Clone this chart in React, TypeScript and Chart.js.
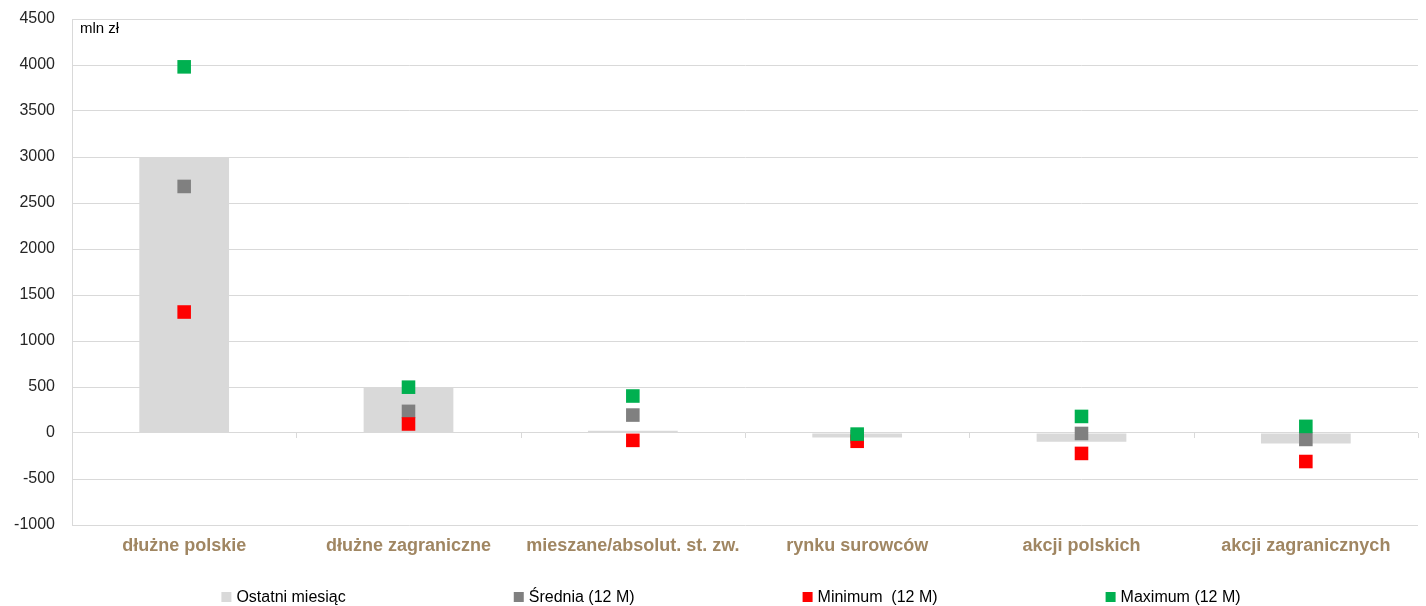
import React, { useEffect, useRef } from "react";
import { Chart, registerables } from "chart.js";

Chart.register(...registerables);

const categories = [
  "dłużne polskie",
  "dłużne zagraniczne",
  "mieszane/absolut. st. zw.",
  "rynku surowców",
  "akcji polskich",
  "akcji zagranicznych",
];
const lastMonth = [3000, 490, 25, -50, -95, -115];
const average12 = [2680, 235, 195, -40, -5, -70];
const minimum12 = [1315, 98, -80, -90, -222, -310];
const maximum12 = [3980, 498, 402, -12, 180, 72];

const seriesLabels = ["Ostatni miesiąc", "Średnia (12 M)", "Minimum  (12 M)", "Maximum (12 M)"];
const colors = ["#D9D9D9", "#808080", "#FF0000", "#00B050"];
const yMin = -1000;
const yMax = 4500;
const yStep = 500;
const unitLabel = "mln zł";

const FONT = "'Liberation Sans', Arial, sans-serif";

const extrasPlugin = {
  id: "extras",
  afterDraw(chart: any) {
    const ctx = chart.ctx;
    const area = chart.chartArea;
    const x = chart.scales.x;
    const y = chart.scales.y;
    ctx.save();
    // zero-line tick marks at category boundaries
    const y0 = y.getPixelForValue(0);
    ctx.strokeStyle = "#D9D9D9";
    ctx.lineWidth = 1;
    const n = categories.length;
    for (let i = 1; i <= n; i++) {
      const px =
        i < n
          ? (x.getPixelForTick(i - 1) + x.getPixelForTick(i)) / 2
          : area.right;
      const xx = Math.round(px) + 0.5;
      ctx.beginPath();
      ctx.moveTo(xx, y0);
      ctx.lineTo(xx, y0 + 5);
      ctx.stroke();
    }
    // unit label
    ctx.fillStyle = "#000000";
    ctx.font = `15px ${FONT}`;
    ctx.textAlign = "left";
    ctx.textBaseline = "middle";
    ctx.fillText(unitLabel, area.left + 8, area.top + 10);

    // custom legend
    ctx.font = `16px ${FONT}`;
    const box = 10;
    const textGap = 5;
    const gap = 168;
    const widths = seriesLabels.map((l) => box + textGap + ctx.measureText(l).width);
    const total = widths.reduce((a, b) => a + b, 0) + gap * (widths.length - 1);
    let lx = (area.left + area.right) / 2 - 14 - total / 2;
    const ly = 597;
    seriesLabels.forEach((l, i) => {
      ctx.fillStyle = colors[i];
      ctx.fillRect(lx, ly - box / 2, box, box);
      ctx.fillStyle = "#000000";
      ctx.fillText(l, lx + box + textGap, ly + 1);
      lx += widths[i] + gap;
    });
    ctx.restore();
  },
};

export default function App() {
  const ref = useRef<HTMLCanvasElement | null>(null);
  useEffect(() => {
    if (!ref.current) return;
    const pointDs = (label: string, data: number[], color: string, order: number) => ({
      type: "line" as const,
      label,
      data,
      showLine: false,
      pointStyle: "rect",
      pointRadius: 9.6,
      pointHoverRadius: 9.6,
      pointBackgroundColor: color,
      pointBorderColor: color,
      pointBorderWidth: 0,
      backgroundColor: color,
      borderColor: color,
      clip: false,
      order,
    });
    const chart = new Chart(ref.current, {
      type: "bar",
      data: {
        labels: categories,
        datasets: [
          {
            type: "bar",
            label: seriesLabels[0],
            data: lastMonth,
            backgroundColor: colors[0],
            borderWidth: 0,
            barPercentage: 0.4,
            categoryPercentage: 1,
            order: 4,
          } as any,
          pointDs(seriesLabels[1], average12, colors[1], 3),
          pointDs(seriesLabels[2], minimum12, colors[2], 2),
          pointDs(seriesLabels[3], maximum12, colors[3], 1),
        ],
      },
      options: {
        animation: false,
        responsive: true,
        maintainAspectRatio: false,
        layout: { autoPadding: false, padding: { top: 19, right: 8, bottom: 0, left: 0 } },
        plugins: {
          legend: { display: false },
          tooltip: { enabled: false },
        },
        scales: {
          x: {
            grid: { display: false },
            border: { display: false },
            ticks: {
              color: "#A08662",
              font: { family: FONT, size: 18, weight: "bold" },
              padding: 2,
              maxRotation: 0,
              autoSkip: false,
            },
            afterFit: (s: any) => {
              s.height = 81;
              s.paddingTop = 0;
              s.paddingBottom = 0;
            },
          },
          y: {
            min: yMin,
            max: yMax,
            ticks: {
              stepSize: yStep,
              color: "#262626",
              font: { family: FONT, size: 16 },
              padding: 17,
              callback: (v: any) => String(v),
            },
            grid: { color: "#D9D9D9", drawTicks: false, lineWidth: 1 },
            border: { display: true, color: "#D9D9D9" },
            afterFit: (s: any) => {
              s.width = 72;
              s.paddingTop = 0;
              s.paddingBottom = 0;
            },
          },
        },
      },
      plugins: [extrasPlugin],
    } as any);
    return () => chart.destroy();
  }, []);
  return (
    <div style={{ position: "fixed", left: 0, top: 0, width: 1426, height: 606, background: "#fff" }}>
      <canvas ref={ref} />
    </div>
  );
}
